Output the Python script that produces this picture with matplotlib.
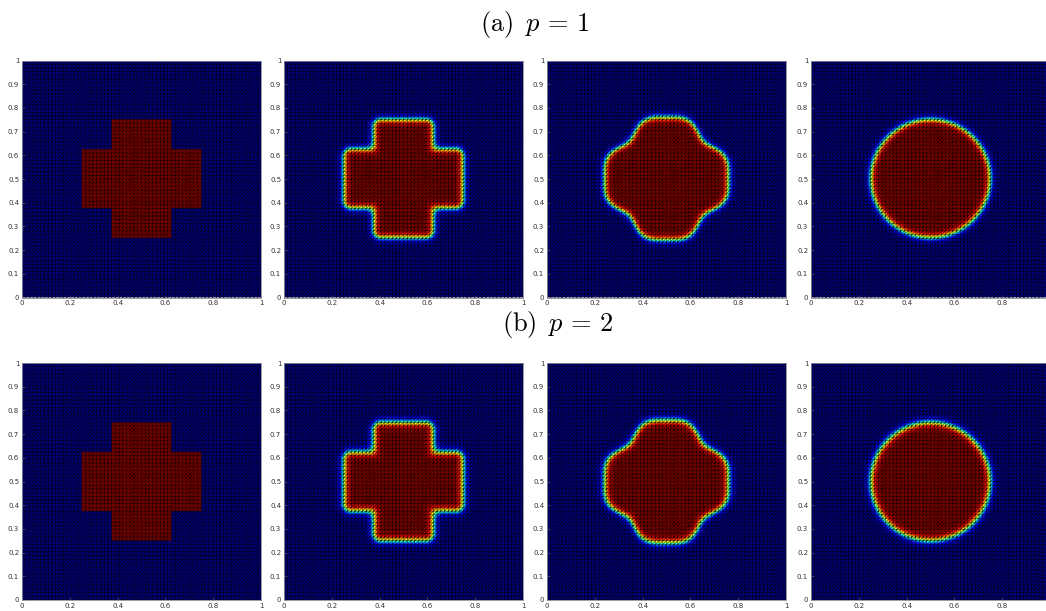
import numpy as np
import matplotlib
matplotlib.use("Agg")
import matplotlib.pyplot as plt
import matplotlib.tri as mtri

plt.rcParams["mathtext.fontset"] = "cm"

# ---- shape parameters ----
row_titles = [r"$\mathrm{(a)}\ \, p \,=\, 1$", r"$\mathrm{(b)}\ \, p \,=\, 2$"]
shape_kind = ["cross", "cross", "polar", "polar"]
# cross = union of a horizontal and a vertical bar (x0, x1, y0, y1)
bar_h = [0.25, 0.75, 0.375, 0.625]
bar_v = [0.375, 0.625, 0.25, 0.75]
centre = [0.5, 0.5]
# per row, per snapshot
convex_round = [[0.0, 0.032, 0.0, 0.0],
                [0.0, 0.032, 0.0, 0.0]]
concave_fillet = [[0.0, 0.03, 0.0, 0.0],
                  [0.0, 0.03, 0.0, 0.0]]
# polar outline r(theta) = r0 + a4 cos(4 theta) + a8 cos(8 theta)
polar_r0 = [[0.0, 0.0, 0.2500, 0.25],
            [0.0, 0.0, 0.2503, 0.25]]
polar_a4 = [[0.0, 0.0, 0.0190, 0.0],
            [0.0, 0.0, 0.0187, 0.0]]
polar_a8 = [[0.0, 0.0, -0.0095, 0.0],
            [0.0, 0.0, -0.0093, 0.0]]
interface_eps = [[0.0, 0.011, 0.011, 0.011],
                 [0.0, 0.012, 0.012, 0.012]]

x_ticks = [0, 0.2, 0.4, 0.6, 0.8, 1]
y_ticks = [0, 0.1, 0.2, 0.3, 0.4, 0.5, 0.6, 0.7, 0.8, 0.9, 1]
n_cells = 64


def box_sdf(X, Y, box, r):
    cx, cy = (box[0] + box[1]) / 2, (box[2] + box[3]) / 2
    bx, by = (box[1] - box[0]) / 2, (box[3] - box[2]) / 2
    qx = np.abs(X - cx) - (bx - r)
    qy = np.abs(Y - cy) - (by - r)
    return (np.hypot(np.maximum(qx, 0), np.maximum(qy, 0))
            + np.minimum(np.maximum(qx, qy), 0) - r)


def smooth_min(a, b, k):
    if k <= 0:
        return np.minimum(a, b)
    h = np.maximum(k - np.abs(a - b), 0) / k
    return np.minimum(a, b) - h * h * k / 4


def phase_field(row, col, X, Y):
    if shape_kind[col] == "cross":
        r, k = convex_round[row][col], concave_fillet[row][col]
        d = smooth_min(box_sdf(X, Y, bar_h, r), box_sdf(X, Y, bar_v, r), k)
    else:
        dx, dy = X - centre[0], Y - centre[1]
        th = np.arctan2(dy, dx)
        rr = (polar_r0[row][col] + polar_a4[row][col] * np.cos(4 * th)
              + polar_a8[row][col] * np.cos(8 * th))
        d = np.hypot(dx, dy) - rr
    eps = interface_eps[row][col]
    if eps <= 0:
        return (d < 0).astype(float)
    return 0.5 * (1 - np.tanh(d / (np.sqrt(2) * eps)))


# fine grid for the colours, coarse structured mesh drawn on top
g = np.linspace(0, 1, 600)
X, Y = np.meshgrid(g, g)

m = np.linspace(0, 1, n_cells + 1)
MX, MY = np.meshgrid(m, m)
idx = np.arange((n_cells + 1) ** 2).reshape(n_cells + 1, n_cells + 1)
n00 = idx[:-1, :-1].ravel()
n10 = idx[:-1, 1:].ravel()
n01 = idx[1:, :-1].ravel()
n11 = idx[1:, 1:].ravel()
tris = np.concatenate([np.stack([n00, n10, n11], 1), np.stack([n00, n11, n01], 1)])
mesh = mtri.Triangulation(MX.ravel(), MY.ravel(), tris)

W, H = 1046, 611
fig = plt.figure(figsize=(W / 100, H / 100), dpi=100)

lefts = [22, 284, 547, 811]
tops = [60.5, 363]
pw, ph = 239, 237
title_xy = [(535, 24), (558, 324)]

for row in range(2):
    fig.text(title_xy[row][0] / W, 1 - title_xy[row][1] / H, row_titles[row],
             ha="center", va="center", fontsize=19)
    for col in range(4):
        ax = fig.add_axes([lefts[col] / W, 1 - (tops[row] + ph) / H, pw / W, ph / H])
        phi = phase_field(row, col, X, Y)
        ax.imshow(phi, extent=[0, 1, 0, 1], origin="lower", cmap="jet",
                  vmin=0, vmax=1, interpolation="bilinear", aspect="auto")
        ax.triplot(mesh, color="black", lw=0.35, alpha=0.8)
        ax.set_xlim(0, 1)
        ax.set_ylim(0, 1)
        # the last column runs off the right edge, its "1" is not shown
        xt = x_ticks if col < 3 else x_ticks[:-1]
        ax.set_xticks(xt)
        ax.set_yticks(y_ticks)
        ax.set_xticklabels(["%g" % t for t in xt])
        ax.set_yticklabels(["%g" % t for t in y_ticks])
        ax.tick_params(direction="in", length=2, width=0.4, color="#666666",
                       labelcolor="#333333", labelsize=5, pad=2)
        for s in ax.spines.values():
            s.set_color("#8a8a9a")
            s.set_linewidth(0.6)

fig.savefig("out.png", dpi=100)
